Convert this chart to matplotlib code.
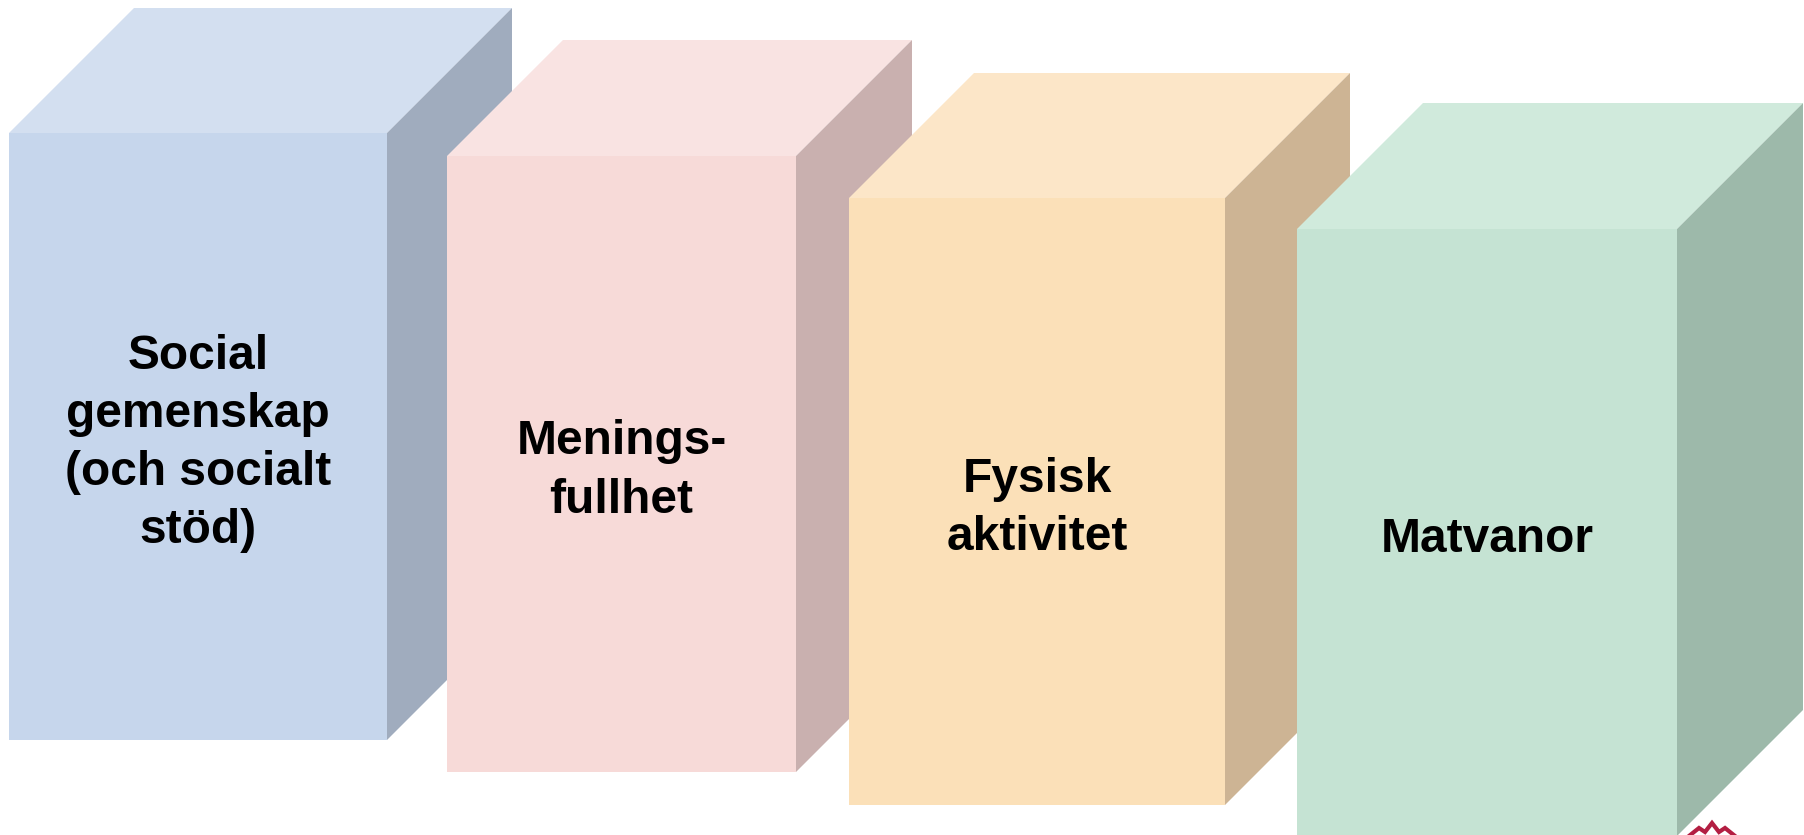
import matplotlib.pyplot as plt
from matplotlib.patches import Polygon

# box labels, left to right
labels = ['Social\ngemenskap\n(och socialt\nstöd)',
          'Menings-\nfullhet',
          'Fysisk\naktivitet',
          'Matvanor']

# colours per box: front, top, side
front_colors = ['#C6D6EC', '#F7DAD8', '#FBE0B8', '#C5E3D3']
top_colors = ['#D3DFF0', '#F9E3E2', '#FCE6C8', '#D0EADC']
side_colors = ['#A0ACBE', '#C9B0AF', '#CDB494', '#9DB9AA']

# layout (pixel coords, y downwards)
front_left = [9, 447, 849, 1297]
front_top = [133, 156, 198, 229]
front_w = [378, 349, 376, 380]
front_h = [607, 616, 607, 607]
depth = [125, 116, 125, 126]

W, H = 1804, 835
fig = plt.figure(figsize=(W / 100, H / 100), dpi=100)
ax = fig.add_axes([0, 0, 1, 1])
ax.set_xlim(0, W)
ax.set_ylim(H, 0)
ax.axis('off')

for i, lab in enumerate(labels):
    x0, y0 = front_left[i], front_top[i]
    x1, y1 = x0 + front_w[i], y0 + front_h[i]
    d = depth[i]
    # top face
    ax.add_patch(Polygon([(x0, y0), (x0 + d, y0 - d), (x1 + d, y0 - d), (x1, y0)],
                         closed=True, facecolor=top_colors[i], edgecolor='none'))
    # side face
    ax.add_patch(Polygon([(x1, y0), (x1 + d, y0 - d), (x1 + d, y1 - d), (x1, y1)],
                         closed=True, facecolor=side_colors[i], edgecolor='none'))
    # front face
    ax.add_patch(Polygon([(x0, y0), (x1, y0), (x1, y1), (x0, y1)],
                         closed=True, facecolor=front_colors[i], edgecolor='none'))
    ax.text((x0 + x1) / 2, (y0 + y1) / 2 + 7, lab, ha='center', va='center',
            multialignment='center', fontsize=34.5, fontweight='bold',
            family='Liberation Sans', color='black', linespacing=1.38)

# bit of the logo peeking in at the bottom right
logo_x = [1689, 1699, 1705, 1712, 1719, 1725, 1735]
logo_y = [836, 828, 832, 823, 832, 828, 836]
ax.plot(logo_x, logo_y, color='#B31E42', lw=3, solid_joinstyle='miter')

fig.savefig('out.png', dpi=100)
